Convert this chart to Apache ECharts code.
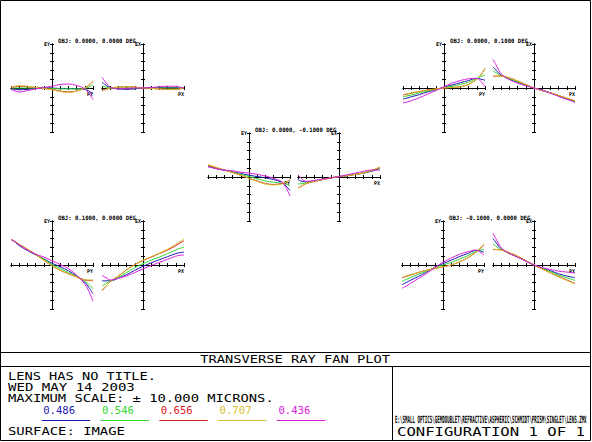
<!DOCTYPE html>
<html>
<head>
<meta charset="utf-8">
<title>Transverse Ray Fan Plot</title>
<script src="https://cdn.jsdelivr.net/npm/echarts@6.0.0/dist/echarts.min.js"></script>
<style>
  html, body { margin: 0; padding: 0; background: #fff; }
  #main { width: 592px; height: 442px; }
</style>
</head>
<body>
<div id="main"></div>
<script type="text/javascript">
var pupil = [-1, -0.9, -0.8, -0.6, -0.4, -0.2, 0, 0.2, 0.4, 0.6, 0.8, 0.9, 1];
// wavelengths (microns), in drawing order
var waves = ['0.486', '0.546', '0.656', '0.707', '0.436'];
var fieldNames = ['OBJ: 0.0000, 0.0000 DEG', 'OBJ: 0.0000, 0.1000 DEG', 'OBJ: 0.0000, -0.1000 DEG',
                  'OBJ: 0.1000, 0.0000 DEG', 'OBJ: -0.1000, 0.0000 DEG'];

// ray errors in microns, one row per wavelength (same order as waves)
var ey1 = [[-0.2, -0.3, -0.4, -0.3, -0.1, 0.1, 0, -0.1, -0.1, -0.2, -0.3, -0.7, -1.3],
           [0, 0, 0, 0, 0, 0, -0.1, -0.2, -0.2, -0.2, -0.1, 0.2, 0.8],
           [0.1, 0.3, 0.4, 0.3, 0.1, -0.1, -0.3, -0.7, -0.9, -0.7, 0, 0.6, 1.5],
           [0.2, 0.4, 0.5, 0.4, 0.1, -0.1, -0.4, -0.8, -1.0, -0.7, 0, 0.7, 1.6],
           [-0.3, -0.7, -0.9, -0.6, -0.2, 0.1, 0.4, 0.8, 0.9, 0.6, -0.2, -1.2, -2.6]];
var ex1 = [[1.3, 0.6, 0.1, -0.2, -0.3, -0.2, 0, 0.1, 0.1, 0.1, 0.1, 0, -0.1],
           [0.5, 0.2, 0, 0, 0, 0, 0, 0, 0, 0, 0, 0, 0],
           [-0.6, -0.3, 0, 0.2, 0.3, 0.2, 0, -0.1, -0.2, -0.3, -0.3, -0.2, 0],
           [-0.7, -0.3, 0, 0.2, 0.3, 0.2, 0, -0.1, -0.2, -0.3, -0.3, -0.2, 0],
           [2.4, 1.2, 0.2, -0.2, -0.1, 0, 0, 0.1, 0.3, 0.4, 0.4, 0.2, 0]];
var ey2 = [[-2.5, -2.3, -2.0, -1.5, -0.9, -0.4, 0.2, 0.7, 1.2, 1.7, 2.2, 2.0, 1.8],
           [-2.0, -1.8, -1.6, -1.1, -0.7, -0.3, 0.1, 0.4, 0.8, 1.3, 2.2, 2.6, 3.0],
           [-1.6, -1.4, -1.2, -0.8, -0.5, -0.2, 0, 0.1, 0.3, 0.8, 2.0, 3.0, 4.4],
           [-1.5, -1.3, -1.1, -0.8, -0.5, -0.2, 0, 0.1, 0.3, 0.8, 2.0, 3.0, 4.5],
           [-3.4, -3.2, -2.9, -2.2, -1.4, -0.6, 0.3, 1.1, 1.7, 2.1, 2.2, 1.5, 0.3]];
var ex2 = [[4.8, 3.8, 2.9, 2.0, 1.3, 0.6, 0, -0.5, -1.1, -1.8, -2.5, -2.8, -3.1],
           [3.9, 3.3, 2.8, 2.1, 1.4, 0.7, 0, -0.5, -1.1, -1.7, -2.4, -2.7, -3.0],
           [2.6, 2.7, 2.7, 2.3, 1.6, 0.8, 0, -0.6, -1.1, -1.7, -2.3, -2.6, -2.9],
           [2.7, 2.7, 2.7, 2.3, 1.6, 0.8, 0, -0.6, -1.1, -1.7, -2.3, -2.6, -2.9],
           [6.5, 4.8, 3.2, 1.9, 1.1, 0.5, 0, -0.5, -1.2, -1.9, -2.6, -2.9, -3.3]];
var ey3 = [[2.4, 2.2, 1.9, 1.5, 1.2, 0.8, 0.4, 0.1, -0.2, -0.6, -1.2, -2.0, -3.1],
           [2.6, 2.3, 2.0, 1.6, 1.1, 0.6, 0.1, -0.4, -0.9, -1.2, -1.4, -1.6, -2.0],
           [2.7, 2.4, 2.1, 1.6, 1.0, 0.4, -0.3, -0.9, -1.5, -1.7, -1.5, -1.2, -0.6],
           [2.8, 2.5, 2.2, 1.6, 1.0, 0.4, -0.3, -1.0, -1.6, -1.8, -1.6, -1.2, -0.6],
           [2.3, 2.1, 1.9, 1.6, 1.4, 1.1, 0.9, 0.6, 0.2, -0.3, -1.1, -2.4, -4.3]];
var ex3 = [[-0.6, -1.0, -1.1, -0.9, -0.5, -0.2, 0.1, 0.3, 0.6, 0.9, 1.3, 1.6, 1.9],
           [-1.6, -1.5, -1.3, -0.9, -0.5, -0.2, 0.1, 0.3, 0.6, 0.9, 1.4, 1.7, 2.0],
           [-2.5, -2.0, -1.5, -1.0, -0.6, -0.2, 0.1, 0.3, 0.6, 1.0, 1.5, 1.8, 2.2],
           [-2.5, -2.0, -1.5, -1.0, -0.6, -0.2, 0.1, 0.3, 0.6, 1.0, 1.5, 1.9, 2.3],
           [0.5, -0.5, -1.0, -0.8, -0.5, -0.2, 0.1, 0.5, 0.9, 1.3, 1.6, 1.6, 1.5]];
var ey4 = [[5.8, 5.2, 4.4, 3.3, 2.3, 1.4, 0.4, -0.4, -1.3, -2.5, -3.9, -5.1, -6.5],
           [5.8, 5.3, 4.6, 3.5, 2.4, 1.3, 0.1, -0.8, -1.7, -2.6, -3.6, -4.4, -5.4],
           [5.8, 5.3, 4.7, 3.6, 2.4, 1.1, -0.2, -1.2, -2.0, -2.7, -3.4, -3.5, -3.6],
           [5.8, 5.3, 4.7, 3.6, 2.4, 1.1, -0.2, -1.2, -2.0, -2.7, -3.4, -3.4, -3.4],
           [5.8, 5.3, 4.6, 3.4, 2.5, 1.8, 1.0, 0.1, -0.8, -2.3, -4.3, -6.0, -8.2]];
var ex4 = [[-3.6, -3.6, -3.6, -3.0, -2.2, -1.2, -0.3, 0.5, 1.2, 1.9, 2.6, 2.8, 2.9],
           [-4.7, -4.2, -3.6, -2.8, -1.7, -0.6, 0.3, 1.1, 1.8, 2.6, 3.4, 3.8, 4.0],
           [-5.8, -4.8, -3.8, -2.5, -1.1, 0.1, 1.0, 1.8, 2.6, 3.4, 4.4, 5.0, 5.5],
           [-5.8, -4.8, -3.8, -2.5, -1.1, 0.1, 1.1, 1.9, 2.7, 3.6, 4.7, 5.3, 5.9],
           [-2.4, -2.9, -3.4, -3.0, -2.5, -1.7, -0.9, -0.1, 0.6, 1.3, 2.0, 2.2, 2.3]];
var ey5 = [[-4.5, -4.0, -3.5, -2.6, -1.6, -0.5, 0.3, 1.1, 1.9, 2.6, 3.3, 3.2, 2.9],
           [-3.7, -3.3, -2.9, -2.1, -1.4, -0.6, 0, 0.6, 1.3, 2.1, 3.1, 3.4, 3.5],
           [-2.9, -2.6, -2.3, -1.7, -1.2, -0.8, -0.4, 0, 0.7, 1.6, 2.9, 3.7, 4.6],
           [-2.8, -2.5, -2.2, -1.7, -1.2, -0.8, -0.4, 0, 0.7, 1.6, 2.9, 3.8, 4.8],
           [-5.3, -4.8, -4.2, -3.1, -1.9, -0.6, 0.6, 1.6, 2.4, 3.0, 3.4, 3.0, 2.2]];
var ex5 = [[6.0, 4.8, 3.7, 2.6, 1.8, 0.9, 0, -0.7, -1.3, -2.0, -2.5, -2.7, -2.9],
           [4.8, 4.1, 3.5, 2.7, 1.9, 1.0, 0, -0.8, -1.5, -2.3, -2.9, -3.2, -3.5],
           [3.5, 3.5, 3.4, 2.8, 2.0, 1.0, 0, -0.9, -1.8, -2.6, -3.4, -3.8, -4.2],
           [3.6, 3.5, 3.4, 2.8, 2.0, 1.0, 0, -0.9, -1.8, -2.7, -3.5, -3.9, -4.3],
           [7.2, 5.5, 3.9, 2.6, 1.8, 0.9, 0, -0.6, -1.0, -1.4, -1.6, -1.7, -1.8]];

var infoLines = ['LENS HAS NO TITLE.', 'WED MAY 14 2003', 'MAXIMUM SCALE: \u00b1 10.000 MICRONS.'];
var surfaceText = 'SURFACE: IMAGE';
var plotTitle = 'TRANSVERSE RAY FAN PLOT';
var fileText = 'E:\\SMALL OPTICS\\GEMDOUBLET\\REFRACTIVE\\ASPHERIC\\SCHMIDT\\PRISM\\SINGLET\\LENS.ZMX';
var configText = 'CONFIGURATION 1 OF 1';
var maxScale = 10;

var fans = [[ey1, ex1], [ey2, ex2], [ey3, ex3], [ey4, ex4], [ey5, ex5]];
var waveColors = ['#1c1cb0', '#2fd82f', '#dc2020', '#d2bf2a', '#dc22dc'];
// panel centres: left panel x, right panel x, axis y
var spots = [[52, 143, 88], [444, 534, 88], [249, 339, 177], [52, 143, 265], [443, 534, 265]];
var halfW = 41, halfH = 44;

var ctx = document.createElement('canvas').getContext('2d');
var mono = '"DejaVu Sans Mono", "Liberation Mono", monospace';

// text squeezed/stretched to a given width, like the plotter font
function fitText(str, x, y, width, size, color, align, weight) {
    var font = (weight || 'normal') + ' ' + size + 'px ' + mono;
    ctx.font = font;
    var w = ctx.measureText(str).width;
    return {
        type: 'text', x: x, y: y, scaleX: width / w, silent: true,
        style: {text: str, font: font, fill: color, align: align || 'left', textAlign: align || 'left',
                verticalAlign: 'middle', textVerticalAlign: 'middle'}
    };
}
function hline(x1, x2, y) {
    return {type: 'line', silent: true, shape: {x1: x1, y1: y, x2: x2, y2: y}, style: {stroke: '#000', lineWidth: 1}};
}
function vline(x, y1, y2) {
    return {type: 'line', silent: true, shape: {x1: x, y1: y1, x2: x, y2: y2}, style: {stroke: '#000', lineWidth: 1}};
}

function valueAxis(g, pos, lim, step, name, zeroIdx, isX) {
    var ax = {
        type: 'value', gridIndex: g, position: pos, min: -lim, max: lim, interval: step,
        axisLine: {onZero: true, onZeroAxisIndex: zeroIdx, lineStyle: {color: '#000', width: 1}},
        axisTick: {show: true, inside: false, length: 2, lineStyle: {color: '#000', width: 1}},
        axisLabel: {show: false},
        splitLine: {show: false}
    };
    if (name) {
        ax.name = name;
        ax.nameLocation = 'end';
        ax.nameGap = 0;
        ax.nameTextStyle = isX
            ? {fontFamily: mono, fontSize: 5, fontWeight: 'bold', color: '#000', align: 'right', verticalAlign: 'top', padding: [3, 0, 0, 0]}
            : {fontFamily: mono, fontSize: 5, fontWeight: 'bold', color: '#000', align: 'right', verticalAlign: 'middle', padding: [0, 2, 0, 0]};
    }
    return ax;
}

var grids = [], xAxes = [], yAxes = [], series = [], graphics = [];

for (var f = 0; f < fans.length; f++) {
    for (var s = 0; s < 2; s++) {
        var g = grids.length;
        var cx = spots[f][s], cy = spots[f][2];
        grids.push({left: cx - halfW, top: cy - halfH, width: 2 * halfW, height: 2 * halfH,
                    containLabel: false, outerBoundsMode: 'none'});
        // two axes of each kind on the zero lines so the ticks cross the line
        xAxes.push(valueAxis(g, 'bottom', 1, 0.2, s == 0 ? 'PY' : 'PX', 2 * g, true));
        xAxes.push(valueAxis(g, 'top', 1, 0.2, '', 2 * g, true));
        yAxes.push(valueAxis(g, 'left', maxScale, 2, s == 0 ? 'EY' : 'EX', 2 * g, false));
        yAxes.push(valueAxis(g, 'right', maxScale, 2, '', 2 * g, false));

        fans[f][s].forEach(function (row, w) {
            series.push({
                type: 'line', name: waves[w], xAxisIndex: 2 * g, yAxisIndex: 2 * g,
                data: pupil.map(function (p, i) { return [p, row[i]]; }),
                smooth: 0.35, showSymbol: false, symbol: 'none', clip: false, silent: true,
                lineStyle: {width: 1, color: waveColors[w]}
            });
        });
    }
    graphics.push(fitText(fieldNames[f], spots[f][0] + 6, spots[f][2] - 47, fieldNames[f].length * 3.4, 6, '#000', 'left', 'bold'));
}

// frame and title block
graphics.push({type: 'rect', silent: true, shape: {x: 0.5, y: 0.5, width: 590, height: 440}, style: {fill: 'none', stroke: '#000', lineWidth: 1}});
graphics.push(hline(0.5, 590.5, 352.5));
graphics.push(hline(0.5, 590.5, 366.5));
graphics.push(vline(392.5, 366.5, 440.5));
graphics.push(fitText(plotTitle, 390, 359.5, 190, 11, '#000', 'right'));
var infoY = [376.5, 387.5, 398.5];
var infoW = [148, 127, 266];
for (var i = 0; i < infoLines.length; i++) {
    graphics.push(fitText(infoLines[i], 8, infoY[i], infoW[i], 11, '#000', 'left'));
}
for (var w = 0; w < waves.length; w++) {
    var x0 = 41.7 + w * 58.8;
    graphics.push(fitText(waves[w], x0 + 1.5, 410, 32, 11, waveColors[w], 'left'));
    graphics.push({type: 'line', silent: true, shape: {x1: x0, y1: 420.5, x2: x0 + 48.5, y2: 420.5},
                   style: {stroke: waveColors[w], lineWidth: 1}});
}
graphics.push(fitText(surfaceText, 8, 431.5, 117, 11, '#000', 'left'));
graphics.push(fitText(fileText, 395, 420, 192, 10, '#000', 'left', 'bold'));
graphics.push(fitText(configText, 397, 432, 188, 11.5, '#000', 'left'));

var myChart = echarts.init(document.getElementById('main'), null, {renderer: 'svg'});
var option = {
    backgroundColor: '#fff',
    animation: false,
    grid: grids,
    xAxis: xAxes,
    yAxis: yAxes,
    series: series,
    graphic: graphics
};
myChart.setOption(option);
</script>
</body>
</html>
